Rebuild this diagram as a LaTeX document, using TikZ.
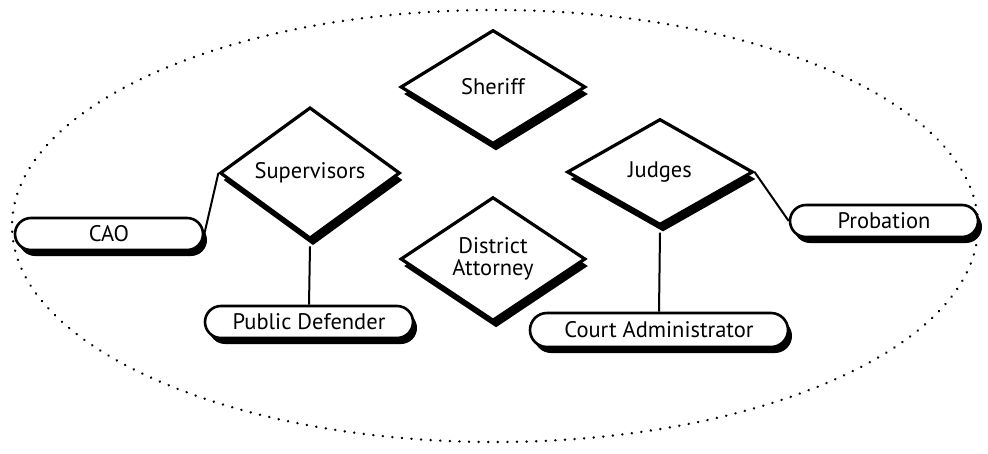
\documentclass[tikz,border=0pt]{standalone}
\usepackage{fontspec}
\setmainfont{PT Sans}
\usetikzlibrary{shapes.geometric,shapes.misc,shadows}
\begin{document}
\begin{tikzpicture}[x=1pt,y=-1pt,
  dia/.style={diamond, draw=black, line width=3.2pt, fill=white, inner sep=0pt,
    font=\fontsize{22.5}{25}\selectfont, align=center,
    drop shadow={shadow xshift=3pt, shadow yshift=-7pt, fill=black, opacity=1}},
  pill/.style={rounded rectangle, draw=black, line width=2.6pt, fill=white, inner sep=0pt,
    minimum height=32pt, font=\fontsize{22.5}{25}\selectfont,
    drop shadow={shadow xshift=4pt, shadow yshift=-6pt, fill=black, opacity=1}},
  link/.style={line width=2pt}]
\useasboundingbox (0,0) rectangle (988,453);
\fill[white] (0,0) rectangle (988,453);
\draw[line width=2.6pt, dash pattern=on 0.1pt off 9.5pt, line cap=round] (495,226) ellipse [x radius=483, y radius=216];
\node[dia, minimum width=185pt, minimum height=114pt] (sheriff) at (493,87) {Sheriff};
\node[dia, minimum width=180pt, minimum height=108pt] (sup) at (310,173) {Supervisors};
\node[dia, minimum width=186pt, minimum height=106pt] (judges) at (660,172) {Judges};
\node[dia, minimum width=185pt, minimum height=108pt] (da) at (493,259) {District\\[-3pt]Attorney};
\node[pill, minimum width=188pt] (cao) at (109,234) {CAO};
\node[pill, minimum width=208pt] (pd) at (309,322) {Public Defender};
\node[pill, minimum width=258pt, minimum height=34pt] (ca) at (659,330) {Court Administrator};
\node[pill, minimum width=188pt] (prob) at (884,221) {Probation};
\draw[link] (cao.east) -- (sup.west);
\draw[link] ([yshift=-6pt]sup.south) -- (pd.north);
\draw[link] ([yshift=-6pt]judges.south) -- (ca.north);
\draw[link] (judges.east) -- (prob.west);
\end{tikzpicture}
\end{document}
